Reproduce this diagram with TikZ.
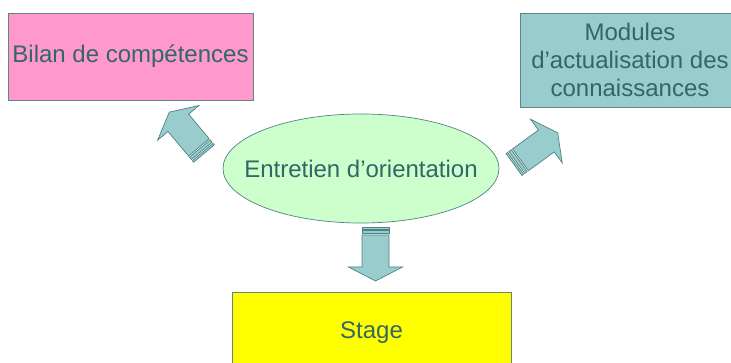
\documentclass[tikz,border=0pt]{standalone}
\usepackage{fontspec}
\setmainfont{Liberation Sans}
\usetikzlibrary{shapes.geometric}
\definecolor{pinkfill}{HTML}{FF99CC}
\definecolor{tealfill}{HTML}{99CCCC}
\definecolor{greenfill}{HTML}{CCFFCC}
\definecolor{yellowfill}{HTML}{FFFF00}
\definecolor{edgegrey}{HTML}{5F8686}
\definecolor{arrowedge}{HTML}{4F8383}
\definecolor{textcol}{HTML}{336666}
\tikzset{
  box/.style={draw=edgegrey, line width=0.8pt, rectangle, inner sep=0pt,
    text=textcol, font=\fontsize{24}{28}\selectfont, align=center},
  oval/.style={draw=arrowedge, line width=0.7pt, ellipse, inner sep=0pt,
    fill=greenfill, text=textcol, font=\fontsize{24}{28}\selectfont},
  arrowpart/.style={fill=tealfill, draw=arrowedge, line width=0.7pt, line join=miter},
  pics/stripedarrow/.style={code={
    \path[arrowpart] (0,-13.5) rectangle (2,13.5);
    \path[arrowpart] (3.5,-13.5) rectangle (6.5,13.5);
    \path[arrowpart] (8,-13.5) -- (40,-13.5) -- (40,-27) -- (54,0) -- (40,27)
      -- (40,13.5) -- (8,13.5) -- cycle;
  }}
}
\begin{document}
\begin{tikzpicture}[x=1pt, y=-1pt]
\useasboundingbox (0,0) rectangle (731,363);
\node[box, fill=pinkfill, minimum width=245pt, minimum height=87pt] (bilan) at (130.5,56.5) {Bilan de compétences};
\node[box, fill=tealfill, minimum width=220pt, minimum height=94pt] (modules) at (630,60) {Modules\\d’actualisation des\\connaissances};
\node[box, fill=yellowfill, minimum width=279pt, minimum height=82pt] (stage) at (371.5,333) {Stage};
\node[oval, minimum width=276pt, minimum height=109pt] (entretien) at (361,168.5) {\makebox[0pt]{\raisebox{-2.5pt}{Entretien d’orientation}}};
\coordinate (tailL) at (204,153.5);
\coordinate (tailR) at (514,164.5);
\coordinate (tailD) at (375.5,227);
\pic[shift={(tailL)}, rotate=130] {stripedarrow};
\pic[shift={(tailR)}, rotate=36] {stripedarrow};
\pic[shift={(tailD)}, rotate=-90] {stripedarrow};
\end{tikzpicture}
\end{document}
